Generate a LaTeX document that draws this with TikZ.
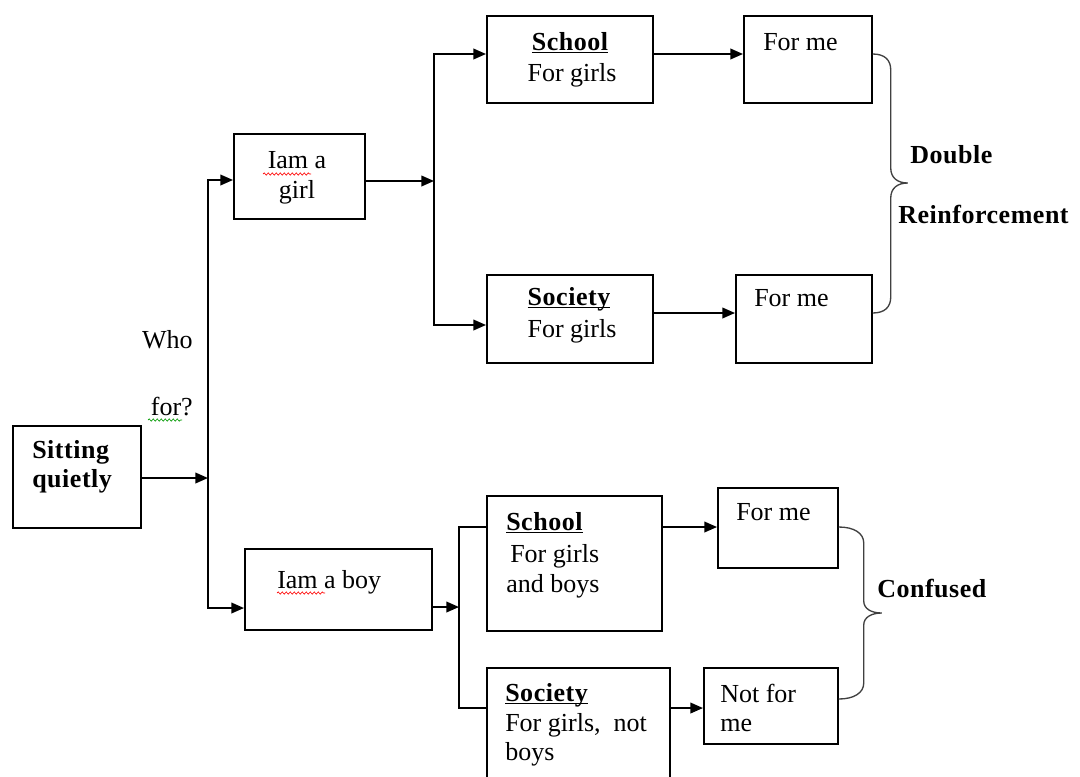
\documentclass[tikz,border=0pt]{standalone}
\usepackage{fontspec}
\setmainfont{Liberation Serif}[BoldFeatures={LetterSpace=2}]
\usetikzlibrary{arrows.meta,decorations.pathmorphing}
\newcommand\ulword[1]{\setbox0\hbox{#1}\rlap{\rule[-2.4pt]{\wd0}{1.1pt}}\box0}
\begin{document}
\begin{tikzpicture}[x=0.75pt,y=-0.75pt,
  font=\fontsize{19.5}{22.5}\selectfont,
  box/.style={draw, line width=1.3pt, inner sep=0pt, anchor=north west},
  rect/.style n args={4}{box, minimum width={(#3-#1)*0.75pt}, minimum height={(#4-#2)*0.75pt}, at={(#1,#2)}},
  txt/.style={inner sep=0pt, anchor=base west},
  ctxt/.style={inner sep=0pt, anchor=base},
  rtxt/.style={inner sep=0pt, anchor=base east},
  bold/.style={font=\fontsize{19.5}{22.5}\selectfont\bfseries},
  conn/.style={line width=1.3pt, line cap=rect},
  arr/.style={conn, -{Triangle[length=9.5pt,width=8pt]}},
  brc/.style={line width=1pt, draw=black!75},
  squig/.style={line width=0.5pt, decorate, decoration={snake, amplitude=0.8pt, segment length=3pt}}]
\fill[white] (0,0) rectangle (1080,776);
\useasboundingbox (0,0) rectangle (1080,776);

% boxes
\node[rect={12}{425}{140}{527}] (sit) {};
\node[rect={233}{133}{364}{218}] (girl) {};
\node[rect={486}{15}{652}{102}] (schoolG) {};
\node[rect={743}{15}{871}{102}] (formeA) {};
\node[rect={486}{274}{652}{362}] (societyG) {};
\node[rect={735}{274}{871}{362}] (formeB) {};
\node[rect={244}{548}{431}{629}] (boy) {};
\node[rect={486}{495}{661}{630}] (schoolB) {};
\node[rect={717}{487}{837}{567}] (formeC) {};
\node[rect={486}{667}{669}{790}] (societyB) {};
\node[rect={703}{667}{837}{743}] (notme) {};

% junction points
\coordinate (j0) at (208,478);
\coordinate (jg) at (208,180);
\coordinate (jb) at (208,608);
\coordinate (k0) at (434,181);
\coordinate (k1) at (434,54);
\coordinate (k2) at (434,325);
\coordinate (kb) at (700,313);
\coordinate (m0) at (459,607);
\coordinate (m1) at (459,527);
\coordinate (m2) at (459,708);

% connectors
\draw[arr] (sit.east |- j0) -- (j0);
\draw[arr] (jg) -- (girl.west |- jg);
\draw[arr] (jg) -- (jb) -- (boy.west |- jb);
\draw[arr] (girl.east |- k0) -- (k0);
\draw[arr] (k1) -- (schoolG.west |- k1);
\draw[arr] (k1) -- (k2) -- (societyG.west |- k2);
\draw[arr] (schoolG.east |- k1) -- (formeA.west |- k1);
\draw[arr] (societyG.east |- kb) -- (formeB.west |- kb);
\draw[arr] (boy.east |- m0) -- (m0);
\draw[conn] (schoolB.west |- m1) -- (m1) -- (m2) -- (societyB.west |- m2);
\draw[arr] (schoolB.east |- m1) -- (formeC.west |- m1);
\draw[arr] (societyB.east |- m2) -- (notme.west |- m2);

% braces
\draw[brc] (formeA.east |- k1)
  .. controls +(12,0) and +(0,-10) .. ++(18,16)
  -- ++(0,98)
  .. controls +(0,10) and +(-10,0) .. ++(17,15)
  .. controls +(-10,0) and +(0,-10) .. ++(-17,15)
  -- ++(0,99)
  .. controls +(0,10) and +(12,0) .. ++(-18,16);
\draw[brc] (formeC.east |- m1)
  .. controls +(15,0) and +(0,-10) .. ++(25,16)
  -- ++(0,58)
  .. controls +(0,8) and +(-10,0) .. ++(18,12)
  .. controls +(-10,0) and +(0,-8) .. ++(-18,12)
  -- ++(0,58)
  .. controls +(0,10) and +(15,0) .. ++(-25,16);

% texts
\node[txt, bold] (tsit1) at (32,458) {Sitting};
\node[txt, bold] (tsit2) at (32,487) {quietly};
\node[rtxt] (twho) at (193,348) {Who};
\node[rtxt] (tfor) at (193,415) {for?};
\node[ctxt] (tgirl1) at (297,168) {Iam a};
\node[ctxt] (tgirl2) at (297,198) {girl};
\node[ctxt, bold] (tschG1) at (570,50) {\ulword{School}};
\node[ctxt] (tschG2) at (572,81) {For girls};
\node[txt] (tmeA) at (763,50) {For me};
\node[ctxt, bold] (tsocG1) at (569,305) {\ulword{Society}};
\node[ctxt] (tsocG2) at (572,337) {For girls};
\node[txt] (tmeB) at (754,306) {For me};
\node[txt, bold] (tdouble) at (910,163) {Double};
\node[txt, bold] (treinf) at (898,223) {Reinforcement};
\node[txt] (tboy) at (277,588) {Iam a boy};
\node[txt, bold] (tschB1) at (506,530) {\ulword{School}};
\node[txt] (tschB2) at (510,562) {For girls};
\node[txt] (tschB3) at (506,592) {and boys};
\node[txt] (tmeC) at (736,520) {For me};
\node[txt, bold] (tsocB1) at (505,701) {\ulword{Society}};
\node[txt] (tsocB2) at (505,731) {For girls,~ not};
\node[txt] (tsocB3) at (505,760) {boys};
\node[txt] (tnot1) at (720,702) {Not for};
\node[txt] (tnot2) at (720,731) {me};
\node[txt, bold] (tconf) at (877,597) {Confused};

% spelling marks
\draw[squig, red] (263,174) -- (311,174);
\draw[squig, red] (277,593) -- (325,593);
\draw[squig, green!60!black] (148,420) -- (182,420);
\end{tikzpicture}
\end{document}
